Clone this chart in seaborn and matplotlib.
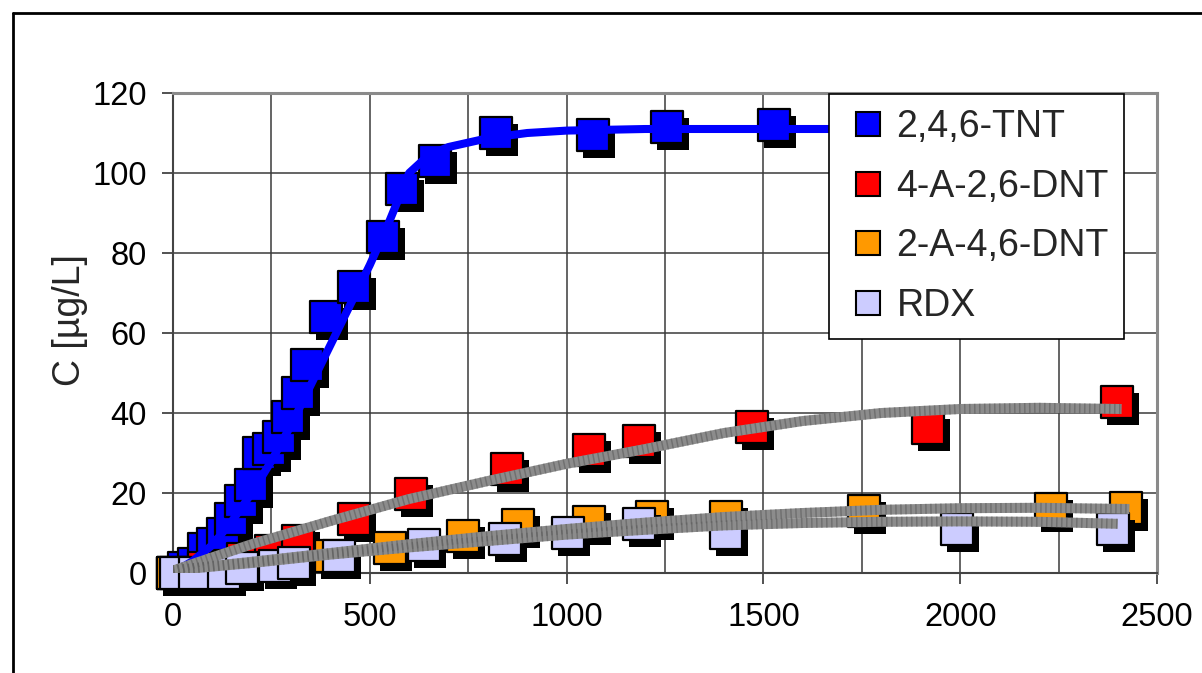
import matplotlib
matplotlib.use("Agg")
import matplotlib.pyplot as plt
import matplotlib.transforms as mtransforms
from matplotlib.lines import Line2D
from matplotlib.ticker import MultipleLocator
import pandas as pd
import seaborn as sns

# measured concentrations (time, C in ug/L)
tnt_t = [0, 28, 53, 79, 101, 127, 147, 173, 198, 218, 244, 269, 292, 317, 340, 388, 459, 533, 581, 665, 820, 1066, 1256, 1528]
tnt_c = [0, 1.3, 2.3, 6, 7.3, 9.8, 13.5, 18, 22, 30, 31, 34, 39, 45, 52, 64, 71.5, 84, 96, 103, 110, 109.5, 111.5, 112]

a4_t = [0, 79, 178, 249, 317, 459, 604, 848, 1058, 1183, 1470, 1919, 2398]
a4_c = [0, 1.3, 3.5, 5.5, 8, 13.5, 19.75, 26, 30.75, 33, 36.5, 36.25, 42.75]

a2_t = [0, 104, 401, 551, 736, 876, 1056, 1218, 1404, 1756, 2231, 2421]
a2_c = [0, 1.3, 4.3, 6.25, 9.25, 12, 12.75, 14, 14, 15.5, 16, 16.25]

rdx_t = [8, 56, 129, 175, 259, 307, 421, 637, 843, 1003, 1183, 1404, 1992, 2388]
rdx_c = [0, 0, 0, 1.25, 1.75, 2.5, 4.25, 7, 8.5, 10, 12.25, 10, 11, 11]

# fitted curves
tnt_fit_t = [0, 50, 100, 150, 200, 250, 300, 350, 400, 450, 500, 550, 600, 650, 700, 800, 900, 1000, 1200, 1500, 1700]
tnt_fit_c = [0, 3, 7, 13, 20, 28, 37, 47, 57, 67, 77, 88, 100, 104.5, 106.5, 108.7, 110, 110.6, 111, 111, 111]

a4_fit_t = [0, 200, 400, 600, 800, 1000, 1200, 1400, 1600, 1800, 2000, 2200, 2410]
a4_fit_c = [0.6, 7.2, 13, 18.5, 23, 27.3, 31, 35, 38, 40, 41, 41.3, 41]

a2_fit_t = [0, 200, 400, 600, 800, 1000, 1200, 1400, 1600, 1800, 2000, 2200, 2430]
a2_fit_c = [0.7, 2.8, 5, 7.2, 9.2, 11, 12.6, 14, 15, 15.8, 16.2, 16.3, 16]

rdx_fit_t = [0, 200, 400, 600, 800, 1000, 1200, 1400, 1600, 1800, 2000, 2200, 2400]
rdx_fit_c = [0.7, 2.5, 4.6, 6.4, 8, 9.6, 10.8, 11.9, 12.5, 12.8, 12.9, 12.8, 12.3]

labels = ["2,4,6-TNT", "4-A-2,6-DNT", "2-A-4,6-DNT", "RDX"]
colors = ["#0000ff", "#ff0000", "#ff9900", "#ccccff"]

sns.set_style("white")
plt.rcParams["font.family"] = ["Liberation Sans", "DejaVu Sans"]

fig = plt.figure(figsize=(12.02, 6.73), dpi=100)
ax = fig.add_axes([173 / 1202, 1 - 573 / 673, (1157 - 173) / 1202, (573 - 93) / 673])

shadow = mtransforms.offset_copy(ax.transData, fig=fig, x=6, y=-7, units="dots")

series = [(tnt_t, tnt_c), (a4_t, a4_c), (a2_t, a2_c), (rdx_t, rdx_c)]
for i, ((t, c), col) in enumerate(zip(series, colors)):
    df = pd.DataFrame({"t": t, "c": c})
    sns.scatterplot(data=df, x="t", y="c", ax=ax, marker="s", s=520, color="black",
                    edgecolor="black", linewidth=0, transform=shadow, clip_on=False,
                    zorder=3 + 2 * i, legend=False)
    sns.scatterplot(data=df, x="t", y="c", ax=ax, marker="s", s=520, color=col,
                    edgecolor="black", linewidth=1.6, clip_on=False,
                    zorder=4 + 2 * i, legend=False)

# trend lines
sns.lineplot(x=tnt_fit_t, y=tnt_fit_c, ax=ax, color="#0000ff", lw=5.8, zorder=12,
             solid_capstyle="butt")
for ft, fc in [(a4_fit_t, a4_fit_c), (a2_fit_t, a2_fit_c), (rdx_fit_t, rdx_fit_c)]:
    sns.lineplot(x=ft, y=fc, ax=ax, color="#8c8c8c", lw=7.2, zorder=13,
                 solid_capstyle="butt")
    ax.plot(ft, fc, color="#5e5e5e", lw=7.2, zorder=14, dashes=(0.15, 0.35),
            solid_capstyle="butt", dash_capstyle="butt", alpha=0.6)

ax.set_xlim(0, 2500)
ax.set_ylim(0, 120)
ax.xaxis.set_major_locator(MultipleLocator(500))
ax.xaxis.set_minor_locator(MultipleLocator(250))
ax.yaxis.set_major_locator(MultipleLocator(20))
ax.grid(True, which="both", axis="x", color="#3a3a3a", lw=1.1)
ax.grid(True, which="major", axis="y", color="#3a3a3a", lw=1.1)
ax.set_axisbelow(True)
ax.tick_params(axis="both", which="major", direction="out", length=8, width=1.2,
               color="#333333", labelsize=23.5, labelcolor="black")
ax.tick_params(axis="x", which="major", pad=13)
ax.tick_params(axis="y", which="major", pad=11)
ax.tick_params(axis="x", which="minor", length=0)
ax.tick_params(left=True, bottom=True)

for side in ["top", "right"]:
    ax.spines[side].set_color("#8a8a8a")
    ax.spines[side].set_linewidth(2.2)
for side in ["left", "bottom"]:
    ax.spines[side].set_color("#444444")
    ax.spines[side].set_linewidth(1.5)

ax.set_xlabel("")
ax.set_ylabel("")
fig.text(70 / 1202, 1 - 320 / 673, "C [µg/L]", rotation=90, ha="center", va="center",
         fontsize=27)

handles = [Line2D([], [], marker="s", linestyle="none", markersize=17,
                  markerfacecolor=col, markeredgecolor="black", markeredgewidth=1.5)
           for col in colors]
leg = ax.legend(handles, labels, loc="upper left",
                bbox_to_anchor=(829 / 1202, 1 - 94 / 673), bbox_transform=fig.transFigure,
                fontsize=27, frameon=True, fancybox=False, shadow=False, framealpha=1,
                borderaxespad=0, borderpad=0.4, handlelength=1.3, handletextpad=0.1,
                labelspacing=0.63)
leg.get_frame().set_edgecolor("black")
leg.get_frame().set_linewidth(1.2)
leg.set_zorder(20)

# outer chart frame
fig.add_artist(Line2D([13 / 1202, 13 / 1202], [0, 1 - 13 / 673], color="black", lw=2,
                      transform=fig.transFigure))
fig.add_artist(Line2D([13 / 1202, 1], [1 - 13 / 673, 1 - 13 / 673], color="black", lw=2,
                      transform=fig.transFigure))

fig.savefig("out.png", dpi=100)
